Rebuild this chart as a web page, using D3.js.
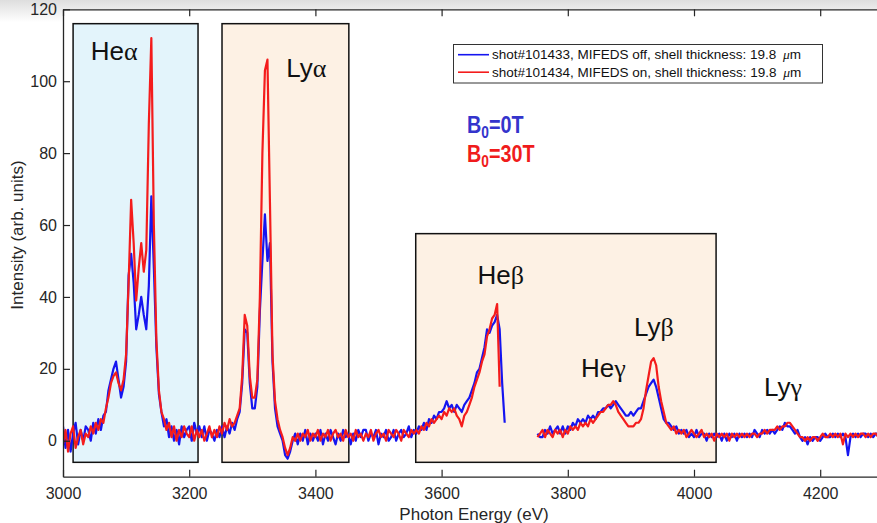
<!DOCTYPE html>
<html>
<head>
<meta charset="utf-8">
<script src="https://cdn.jsdelivr.net/npm/d3@7"></script>
<style>
  html, body { margin: 0; padding: 0; background: #fff; }
  svg { display: block; font-family: "Liberation Sans", Arial, Helvetica, sans-serif; }
</style>
</head>
<body>
<svg id="chart" width="877" height="523"></svg>
<script>
// Spectra sampled every 4 eV starting at 3000 eV (null = no detector coverage)
const energyStart = 3000;
const energyStep = 4;

// shot#101433, MIFEDS off
const blueValues = [
  4, -2, 3, -3, 2, 5, -1, 3, 0, 4,            // 3000
  3, 0, 5, 2, 6, 3, 7, 8, 14, 17,             // 3040
  20, 22, 17, 12, 15, 22, 46, 52, 44, 31,     // 3080
  35, 40, 35, 31, 43, 68, 48, 26, 13, 8,      // 3120
  4, 6, 1, 4, 0, 3, -1, 4, 1, 3,              // 3160
  4, 0, 5, 2, 4, 1, 4, 0, 3, 2,               // 3200
  0, 3, 1, 4, 1, 4, 2, 5, 3, 6,               // 3240
  8, 16, 31, 30, 16, 9, 9, 15, 36, 50,        // 3280
  63, 50, 55, 22, 9, 4, 2, 0, -4, -5,         // 3320
  -3, 0, 2, -1, 2, 0, 3, -1, 2, 0,            // 3360
  2, 0, 3, -1, 2, 0, 3, 1, -1, 2,             // 3400
  0, 3, 1, 2, -1, 2, 0, 3, 1, 3,              // 3440
  3, 0, 2, 1, 3, -1, 2, 1, 3, 0,              // 3480
  1, 3, 0, 2, 3, 1, 2, 4, 1, 3,               // 3520
  2, 4, 3, 5, 3, 6, 5, 7, 6, 8,               // 3560
  8, 9, 11, 9, 10, 8, 10, 9, 8, 10,           // 3600
  11, 12, 14, 16, 19, 20, 23, 26, 31, 30,     // 3640
  32, 33, 35, 31, 16, 5, null, null, null, null,          // 3680
  null, null, null, null, null, null, null, null, 2, 1,   // 3720
  1, 3, 2, 4, 2, 3, 4, 2, 4, 2,               // 3760
  4, 3, 5, 4, 6, 5, 6, 5, 7, 6,               // 3800
  7, 6, 8, 8, 9, 9, 10, 9, 10, 11,            // 3840
  10, 9, 8, 7, 7, 8, 7, 8, 9, 9,              // 3880
  11, 13, 15, 16, 17, 15, 12, 9, 6, 5,        // 3920
  5, 4, 3, 4, 2, 3, 2, 3, 1, 2,               // 3960
  1, 3, 1, 2, 2, 0, 2, 1, 2, 1,               // 4000
  2, 0, 2, 0, 2, 1, 2, 0, 2, 1,               // 4040
  2, 1, 2, 1, 3, 2, 1, 3, 2, 3,               // 4080
  2, 3, 2, 3, 4, 3, 5, 4, 4, 3,               // 4120
  2, 3, 1, 0, 1, -1, 1, 0, 1, 1,              // 4160
  0, 1, 2, 1, 1, 2, 1, 2, 1, 2,               // 4200
  1, -4, 1, 2, 1, 2, 1, 2, 2, 1,              // 4240
  2, 1, 2, 2, 1, 2, 1                         // 4280
];

// shot#101434, MIFEDS on
const redValues = [
  -1, 3, -3, 2, 4, -2, 1, 3, -1, 2,           // 3000
  1, 4, 2, 5, 3, 6, 5, 9, 12, 16,             // 3040
  18, 19, 16, 14, 17, 24, 44, 67, 55, 39,     // 3080
  48, 55, 47, 53, 88, 112, 60, 28, 14, 8,     // 3120
  6, 3, 5, 1, 4, 0, 3, 1, 4, 2,               // 3160
  1, 4, 0, 3, 1, 3, 0, 2, 4, 1,               // 3200
  3, 1, 4, 2, 5, 3, 6, 4, 5, 7,               // 3240
  9, 18, 35, 32, 18, 12, 12, 17, 40, 80,      // 3280
  103, 106, 66, 24, 11, 6, 3, 1, -2, -4,      // 3320
  -2, 1, 0, 2, 0, 2, 1, 3, 0, 2,              // 3360
  1, 3, 0, 2, 1, 3, 0, 2, 3, 1,               // 3400
  2, 0, 3, 1, 2, 0, 3, 1, 2, 0,               // 3440
  2, 1, 3, 0, 2, 3, 1, 2, 0, 3,               // 3480
  2, 1, 3, 2, 0, 3, 2, 1, 3, 2,               // 3520
  3, 2, 4, 3, 5, 4, 6, 5, 6, 7,               // 3560
  6, 8, 7, 9, 8, 9, 7, 6, 4, 7,               // 3600
  8, 10, 12, 15, 17, 19, 22, 24, 29, 31,      // 3640
  34, 35, 38, 15, null, null, null, null, null, null,     // 3680
  null, null, null, null, null, null, null, null, 1, 2,   // 3720
  3, 1, 3, 2, 1, 3, 2, 3, 1, 3,               // 3760
  2, 4, 3, 4, 3, 5, 4, 5, 4, 6,               // 3800
  5, 6, 7, 8, 8, 9, 10, 10, 11, 10,           // 3840
  8, 7, 6, 5, 4, 4, 4, 5, 5, 6,               // 3880
  9, 14, 18, 22, 23, 21, 15, 11, 8, 5,        // 3920
  4, 3, 4, 2, 3, 2, 3, 1, 2, 3,               // 3960
  2, 1, 2, 3, 1, 2, 1, 2, 0, 2,               // 4000
  1, 2, 1, 2, 0, 2, 1, 2, 1, 2,               // 4040
  1, 2, 1, 2, 2, 1, 2, 2, 3, 2,               // 4080
  3, 3, 3, 4, 3, 4, 4, 5, 5, 4,               // 4120
  3, 2, 1, 1, 0, 1, 0, 1, 1, 0,               // 4160
  1, 2, 1, 1, 2, 1, 2, 1, 2, -1,              // 4200
  2, 1, 2, 1, 2, 1, 2, 2, 1, 2,               // 4240
  1, 2, 2, 1, 2, 1, 2                         // 4280
];

// Axis ticks
const xTickValues = [3000, 3200, 3400, 3600, 3800, 4000, 4200];
const yTickValues = [0, 20, 40, 60, 80, 100, 120];

// Shaded line-group windows: [E min, E max, I min, I max]
const heAlphaWindow = [3016, 3214, -6, 116];
const lyAlphaWindow = [3252, 3453, -6, 116];
const highNWindow   = [3559, 4035, -6, 57.6];

// Line identifications: [label base, greek, E, I]
const lineNames  = ["He", "Ly", "He", "Ly", "He", "Ly"];
const lineGreek  = ["α", "α", "β", "β", "γ", "γ"];
const labelE     = [3044, 3354, 3657, 3905, 3821, 4111];
const labelI     = [105.9, 101.2, 43.7, 29.1, 17.8, 12.4];

const legendLabels = [
  "shot#101433, MIFEDS off, shell thickness: 19.8 ",
  "shot#101434, MIFEDS on, shell thickness: 19.8 "
];
const seriesColors = ["#1515f0", "#f41c1c"];

const svg = d3.select("#chart");
const W = 877, H = 523;

const x = d3.scaleLinear().domain([3000, 4400]).range([63, 946.4]);
const y = d3.scaleLinear().domain([-10, 120]).range([476.7, 9.3]);

// soft grey band along the top edge
const defs = svg.append("defs");
const grad = defs.append("linearGradient").attr("id", "topShade")
  .attr("x1", 0).attr("y1", 0).attr("x2", 0).attr("y2", 1);
grad.append("stop").attr("offset", "0%").attr("stop-color", "#dedede");
grad.append("stop").attr("offset", "100%").attr("stop-color", "#ffffff");
svg.append("rect").attr("x", 0).attr("y", 0).attr("width", W).attr("height", 22)
  .attr("fill", "url(#topShade)");

defs.append("clipPath").attr("id", "plotClip").append("rect")
  .attr("x", x(3000)).attr("y", y(120))
  .attr("width", x(4400) - x(3000)).attr("height", y(-10) - y(120));

// plot background
svg.append("rect")
  .attr("x", x(3000)).attr("y", y(120))
  .attr("width", x(4400) - x(3000)).attr("height", y(-10) - y(120))
  .attr("fill", "#fff");

// shaded windows
const windows = [
  { b: heAlphaWindow, fill: "#e3f4fb" },
  { b: lyAlphaWindow, fill: "#fdf1e4" },
  { b: highNWindow,   fill: "#fdf1e4" }
];
svg.append("g").selectAll("rect").data(windows).join("rect")
  .attr("x", d => x(d.b[0])).attr("y", d => y(d.b[3]))
  .attr("width", d => x(d.b[1]) - x(d.b[0]))
  .attr("height", d => y(d.b[2]) - y(d.b[3]))
  .attr("fill", d => d.fill)
  .attr("stroke", "#111").attr("stroke-width", 1.5);

// spectra
const energies = blueValues.map((_, i) => energyStart + i * energyStep);
const line = d3.line()
  .defined(d => d[1] !== null)
  .x(d => x(d[0])).y(d => y(d[1]));

const plot = svg.append("g").attr("clip-path", "url(#plotClip)");
[blueValues, redValues].forEach((vals, k) => {
  plot.append("path")
    .datum(vals.map((v, i) => [energies[i], v]))
    .attr("fill", "none")
    .attr("stroke", seriesColors[k])
    .attr("stroke-width", 2.2)
    .attr("stroke-linejoin", "round")
    .attr("d", line);
});

// axes (MATLAB-style box with inward ticks)
const axisColor = "#262626";
const gx = svg.append("g").attr("transform", `translate(0,${y(-10)})`)
  .call(d3.axisBottom(x).tickValues(xTickValues).tickSize(-7).tickSizeOuter(0).tickPadding(11).tickFormat(d3.format("d")));
const gxt = svg.append("g").attr("transform", `translate(0,${y(120)})`)
  .call(d3.axisTop(x).tickValues(xTickValues).tickSize(-7).tickSizeOuter(0).tickFormat(""));
const gy = svg.append("g").attr("transform", `translate(${x(3000)},0)`)
  .call(d3.axisLeft(y).tickValues(yTickValues).tickSize(-7).tickSizeOuter(0).tickPadding(6));
[gx, gxt, gy].forEach(g => {
  g.selectAll("path.domain").attr("stroke", axisColor).attr("stroke-width", 1.3);
  g.selectAll(".tick line").attr("stroke", axisColor).attr("stroke-width", 1.2);
  g.selectAll(".tick text").attr("fill", axisColor)
    .style("font-size", "16px").style("font-family", "'Liberation Sans', Arial, sans-serif");
});

// axis titles
svg.append("text")
  .attr("x", 474).attr("y", 520)
  .attr("text-anchor", "middle").attr("fill", axisColor)
  .style("font-size", "17px")
  .text("Photon Energy (eV)");
svg.append("text")
  .attr("transform", `translate(23,${(y(120) + y(-10)) / 2 - 8}) rotate(-90)`)
  .attr("text-anchor", "middle").attr("fill", axisColor)
  .style("font-size", "17px")
  .text("Intensity (arb. units)");

// line identification labels
const labels = svg.append("g");
lineNames.forEach((n, i) => {
  const t = labels.append("text")
    .attr("x", x(labelE[i])).attr("y", y(labelI[i]))
    .attr("fill", "#111").style("font-size", "26px");
  t.append("tspan").text(n);
  t.append("tspan").style("font-family", "'Liberation Serif', 'DejaVu Serif', serif").text(lineGreek[i]);
});

// legend
const lg = svg.append("g");
lg.append("rect").attr("x", 453.5).attr("y", 44.5).attr("width", 369).attr("height", 38.5)
  .attr("fill", "#fff").attr("stroke", "#333").attr("stroke-width", 1);
legendLabels.forEach((txt, i) => {
  const ly = 54.7 + i * 17.5;
  lg.append("line").attr("x1", 458).attr("x2", 489).attr("y1", ly).attr("y2", ly)
    .attr("stroke", seriesColors[i]).attr("stroke-width", 1.6);
  const t = lg.append("text").attr("x", 492).attr("y", ly + 4.6)
    .attr("fill", "#111").style("font-size", "13.5px");
  t.append("tspan").text(txt);
  t.append("tspan").attr("dx", 3).style("font-family", "'Liberation Serif', serif")
    .style("font-style", "italic").text("μ");
  t.append("tspan").text("m");
});

// field annotations
const fieldLabels = [
  { pre: "B", sub: "0", post: "=0T", color: "#3434cc", yy: 133 },
  { pre: "B", sub: "0", post: "=30T", color: "#f01c1c", yy: 162 }
];
fieldLabels.forEach(f => {
  const g = svg.append("g").attr("transform", `translate(467,${f.yy}) scale(0.86,1)`);
  const t = g.append("text").attr("x", 0).attr("y", 0)
    .attr("fill", f.color).style("font-size", "23px").style("font-weight", "bold");
  t.append("tspan").text(f.pre);
  t.append("tspan").attr("dy", 5).style("font-size", "16px").text(f.sub);
  t.append("tspan").attr("dy", -5).text(f.post);
});
</script>
</body>
</html>
